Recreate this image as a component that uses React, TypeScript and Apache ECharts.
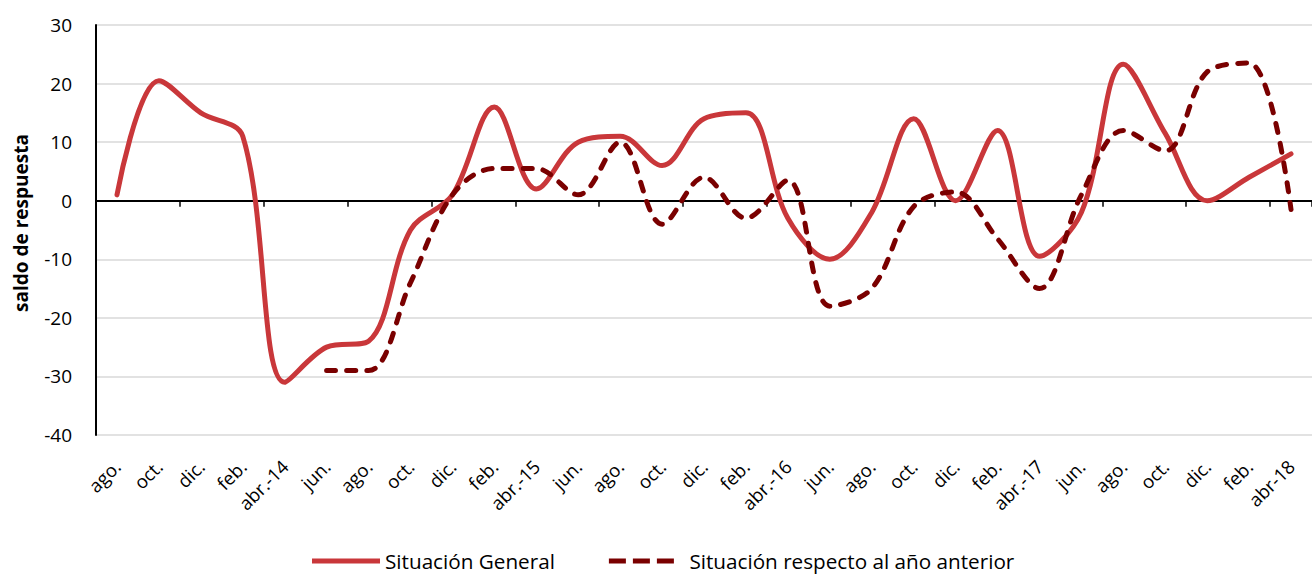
import React, { useEffect, useRef } from "react";
import * as echarts from "echarts";

const categories = [
  "ago.", "oct.", "dic.", "feb.", "abr.-14", "jun.", "ago.", "oct.", "dic.", "feb.",
  "abr.-15", "jun.", "ago.", "oct.", "dic.", "feb.", "abr.-16", "jun.", "ago.", "oct.",
  "dic.", "feb.", "abr.-17", "jun.", "ago.", "oct.", "dic.", "feb.", "abr-18",
];

const situacionGeneral = [
  1, 20.5, 15, 11, -31, -25, -24, -5, 1, 16,
  2, 10, 11, 6, 14, 15, -3, -10, -2, 14,
  0, 12, -9.5, -2, 23.3, 11.5, 0, 4, 8,
];

const situacionAnterior = [
  null, null, null, null, null, -29, -29, -14, 1, 5.5,
  5.5, 1, 10, -4, 4, -3, 3.5, -18, -15, -1,
  1.5, -6.5, -15, 1, 12, 8.5, 22, 23.5, -1.5,
];

const yTicks = { min: -40, max: 30, interval: 10 };

const seriesNames = ["Situación General", "Situación respecto al año anterior"];
const yTitle = "saldo de respuesta";

const colors = ["#C9373A", "#7A0000"];

const FONT = "'Open Sans', sans-serif";

export default function App() {
  const ref = useRef<HTMLDivElement>(null);
  useEffect(() => {
    if (!ref.current) return;
    const chart = echarts.init(ref.current, undefined, { renderer: "svg" });
    chart.setOption({
      animation: false,
      backgroundColor: "#ffffff",
      textStyle: { fontFamily: FONT },
      grid: { left: 96, right: -9, top: 25, bottom: 139, containLabel: false },
      graphic: [
        {
          type: "text",
          x: 21,
          y: 223,
          rotation: Math.PI / 2,
          style: {
            text: yTitle,
            font: `bold 19px ${FONT}`,
            fill: "#000",
            align: "center",
            verticalAlign: "middle",
          },
        },
      ],
      legend: {
        left: 312,
        top: 549,
        padding: 0,
        itemGap: 54,
        itemWidth: 68,
        itemHeight: 5,
        textStyle: { fontFamily: FONT, fontSize: 20.7, color: "#000", lineHeight: 24 },
        data: [
          {
            name: seriesNames[0],
            icon: "path://M0,0H68V5H0Z",
            itemStyle: { color: colors[0], borderWidth: 0 },
          },
          {
            name: seriesNames[1],
            icon: "path://M0,0H17V5H0Z M24,0H41V5H24Z M48,0H65V5H48Z",
            itemStyle: { color: colors[1], borderWidth: 0 },
            textStyle: { padding: [0, 0, 0, 9] },
          },
        ],
      },
      xAxis: [
        {
          type: "category",
          data: categories,
          position: "bottom",
          boundaryGap: true,
          axisLine: { show: false, onZero: false },
          axisTick: { show: false },
          axisLabel: {
            interval: 0,
            rotate: 45,
            margin: 28,
            fontFamily: FONT,
            fontSize: 18.5,
            color: "#000",
          },
          splitLine: { show: false },
        },
        {
          type: "category",
          data: categories,
          position: "bottom",
          boundaryGap: true,
          axisLine: { show: true, onZero: true, onZeroAxisIndex: 0, lineStyle: { color: "#000", width: 2 } },
          axisTick: { show: true, inside: false, length: 6, lineStyle: { color: "#000", width: 1.5 } },
          axisLabel: { show: false },
          splitLine: { show: false },
        },
      ],
      yAxis: {
        type: "value",
        min: yTicks.min,
        max: yTicks.max,
        interval: yTicks.interval,
        axisLine: { show: true, onZero: false, lineStyle: { color: "#000", width: 2 } },
        axisTick: { show: false },
        axisLabel: { fontFamily: FONT, fontSize: 19, color: "#000", margin: 24 },
        splitLine: { show: true, lineStyle: { color: "#d9d9d9", width: 1.5 } },
      },
      series: [
        {
          name: seriesNames[0],
          type: "line",
          xAxisIndex: 0,
          data: situacionGeneral,
          smooth: 0.35,
          symbol: "none",
          lineStyle: { color: colors[0], width: 5, cap: "round", join: "round" },
          itemStyle: { color: colors[0] },
        },
        {
          name: seriesNames[1],
          type: "line",
          xAxisIndex: 0,
          data: situacionAnterior,
          smooth: 0.35,
          symbol: "none",
          connectNulls: false,
          lineStyle: { color: colors[1], width: 5, type: [9, 11], cap: "round", join: "round" },
          itemStyle: { color: colors[1] },
        },
      ],
    });
    return () => chart.dispose();
  }, []);
  return (
    <div
      ref={ref}
      style={{ position: "fixed", left: 0, top: 0, width: 1312, height: 574, background: "#fff" }}
    />
  );
}
